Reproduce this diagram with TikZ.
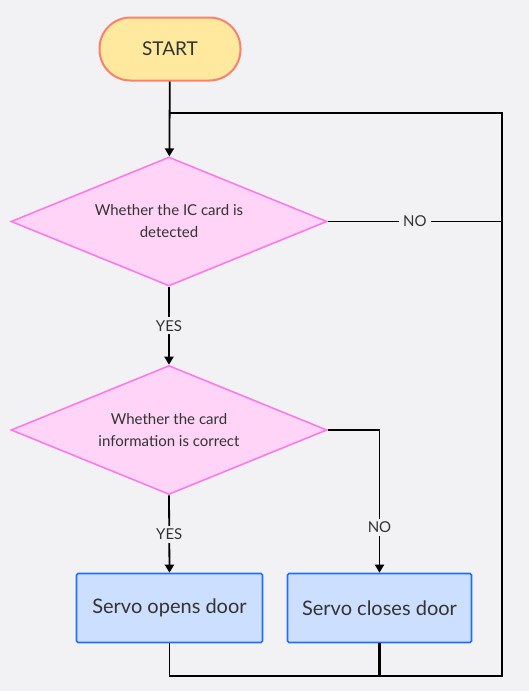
\documentclass[tikz,border=0pt]{standalone}
\usepackage{fontspec}
\setmainfont{Lato}
\usetikzlibrary{shapes.geometric,arrows.meta}
\definecolor{bgc}{HTML}{F2F2F4}
\definecolor{txt}{HTML}{333333}
\definecolor{stfill}{HTML}{FFE99E}
\definecolor{stdraw}{HTML}{FF7F6E}
\definecolor{dmfill}{HTML}{FFD4F7}
\definecolor{dmdraw}{HTML}{FF7AE6}
\definecolor{bxfill}{HTML}{CCDFFF}
\definecolor{bxdraw}{HTML}{1F6FFF}
\tikzset{
  startbox/.style={draw=stdraw,fill=stfill,line width=2pt,rounded corners=31pt,minimum width=141pt,minimum height=63pt,text=txt,font=\fontsize{19}{21}\selectfont,inner sep=0pt},
  decbox/.style={diamond,shape aspect=2.45,draw=dmdraw,fill=dmfill,line width=1.6pt,minimum width=316pt,minimum height=129pt,inner sep=0pt,text=txt,align=center,font=\fontsize{15}{22}\selectfont},
  actbox/.style={draw=bxdraw,fill=bxfill,line width=1.6pt,rounded corners=1.5pt,minimum height=69pt,text=txt,font=\fontsize{20}{22}\selectfont,inner sep=0pt},
  conn/.style={draw=black,line width=1.8pt},
  loopline/.style={draw=black,line width=2.6pt},
  arr/.style={-{Triangle[length=8pt,width=9pt]}},
  lab/.style={fill=bgc,text=txt,font=\fontsize{15}{17}\selectfont,inner xsep=4pt,inner ysep=3pt}
}
\begin{document}
\begin{tikzpicture}[x=1pt,y=-1pt]
\useasboundingbox[fill=bgc] (0,0) rectangle (529,691);
\node[startbox] (start) at (170,49) {START};
\node[decbox] (d1) at (169,221.5) {Whether the IC card is\\detected};
\node[decbox] (d2) at (169,430) {Whether the card\\information is correct};
\node[actbox,minimum width=186pt] (so) at (169.5,608) {Servo opens door};
\node[actbox,minimum width=184pt] (sc) at (379.5,608) {Servo closes door};
\coordinate (br) at (502,676);
\coordinate (tr) at (502,113);
\coordinate (tl) at (170,113);
\draw[conn,arr] (start) -- (d1);
\draw[loopline] (sc.south) |- (br) -- (tr) -- (tl);
\draw[conn,line width=1.6pt] (so.south) |- (sc.south |- br);
\draw[conn] (d1.east) -- node[lab]{NO} (d1.east -| tr);
\draw[conn,arr] (d1.south) -- node[lab]{YES} (d2.north);
\draw[conn,arr] (d2.south) -- node[lab]{YES} (so.north);
\draw[conn,arr] (d2.east) -| node[lab,pos=0.84]{NO} (sc.north);
\end{tikzpicture}
\end{document}
